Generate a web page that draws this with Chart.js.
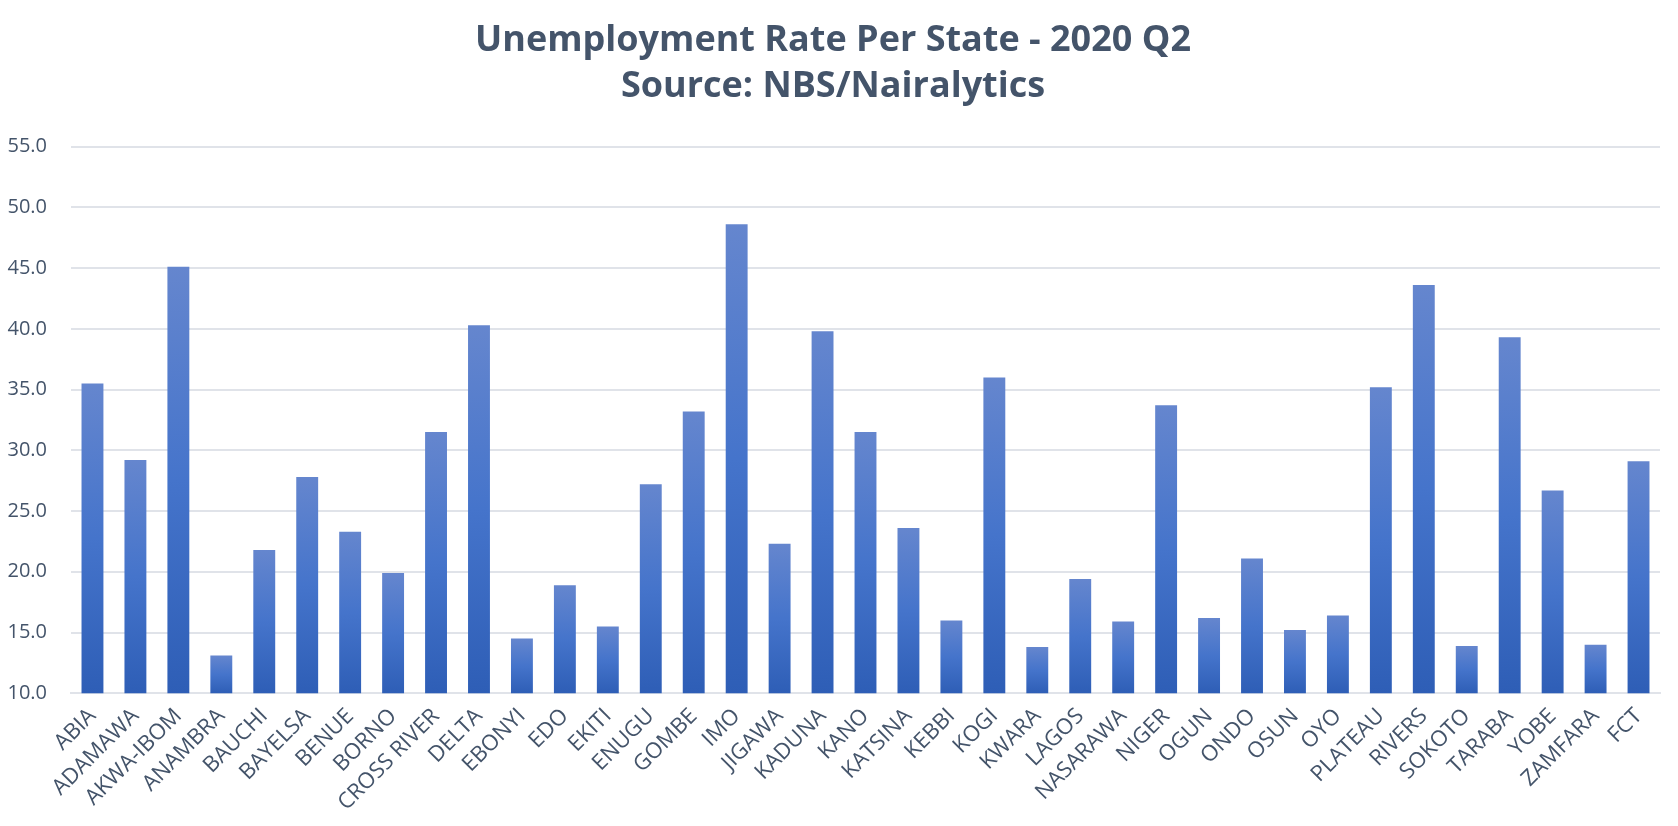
<!DOCTYPE html>
<html>
<head>
<meta charset="utf-8">
<script src="https://cdn.jsdelivr.net/npm/chart.js@4.4.0/dist/chart.umd.min.js"></script>
<style>
  html, body { margin: 0; padding: 0; background: #fff; }
  #wrap { width: 1678px; height: 826px; position: relative; }
</style>
</head>
<body>
<div id="wrap"><canvas id="chart"></canvas></div>
<script>
// Unemployment rate per state, 2020 Q2
const states = ['ABIA', 'ADAMAWA', 'AKWA-IBOM', 'ANAMBRA', 'BAUCHI', 'BAYELSA', 'BENUE', 'BORNO',
  'CROSS RIVER', 'DELTA', 'EBONYI', 'EDO', 'EKITI', 'ENUGU', 'GOMBE', 'IMO', 'JIGAWA', 'KADUNA',
  'KANO', 'KATSINA', 'KEBBI', 'KOGI', 'KWARA', 'LAGOS', 'NASARAWA', 'NIGER', 'OGUN', 'ONDO',
  'OSUN', 'OYO', 'PLATEAU', 'RIVERS', 'SOKOTO', 'TARABA', 'YOBE', 'ZAMFARA', 'FCT'];
const rates = [35.5, 29.2, 45.1, 13.1, 21.8, 27.8, 23.3, 19.9,
  31.5, 40.3, 14.5, 18.9, 15.5, 27.2, 33.2, 48.6, 22.3, 39.8,
  31.5, 23.6, 16.0, 36.0, 13.8, 19.4, 15.9, 33.7, 16.2, 21.1,
  15.2, 16.4, 35.2, 43.6, 13.9, 39.3, 26.7, 14.0, 29.1];
const yMin = 10;
const yMax = 55;
const yStep = 5;

const textColor = '#44546A';
const gridColor = '#E0E3E9';

// each bar gets its own light-to-dark gradient like the Excel original
function barGradient(ctx) {
  const chart = ctx.chart;
  if (!chart.chartArea) return '#4472C4';
  const y = chart.scales.y;
  const top = y.getPixelForValue(ctx.raw);
  const base = y.getPixelForValue(y.min);
  const g = chart.ctx.createLinearGradient(0, top, 0, base);
  g.addColorStop(0, '#6586CE');
  g.addColorStop(0.5, '#4574CB');
  g.addColorStop(1, '#2E5EB6');
  return g;
}

new Chart(document.getElementById('chart'), {
  type: 'bar',
  data: {
    labels: states,
    datasets: [{
      label: 'Unemployment Rate',
      data: rates,
      backgroundColor: barGradient,
      barPercentage: 0.51,
      categoryPercentage: 1
    }]
  },
  options: {
    responsive: true,
    maintainAspectRatio: false,
    animation: false,
    layout: { padding: { left: 6, right: 18, top: 17, bottom: 0 } },
    plugins: {
      legend: { display: false },
      tooltip: { enabled: false },
      title: {
        display: true,
        text: ['Unemployment Rate Per State - 2020 Q2', 'Source: NBS/Nairalytics'],
        color: textColor,
        font: { family: 'Open Sans', size: 36, weight: 'bold', lineHeight: 1.3 },
        padding: { top: 0, bottom: 36 }
      }
    },
    scales: {
      x: {
        grid: { display: false, drawTicks: false },
        border: { display: true, color: gridColor, width: 2 },
        ticks: {
          color: textColor,
          font: { family: 'Open Sans', size: 22 },
          minRotation: 45,
          maxRotation: 45,
          autoSkip: false,
          padding: 10
        },
        // the first rotated label fits under the y labels, as in the original
        afterFit: s => { s.paddingLeft = 0; }
      },
      y: {
        min: yMin,
        max: yMax,
        grid: { color: gridColor, lineWidth: 2, drawTicks: false },
        border: { display: false },
        afterFit: s => { s.width = 65; },
        ticks: {
          stepSize: yStep,
          color: textColor,
          font: { family: 'Open Sans', size: 20 },
          padding: 24,
          callback: v => v.toFixed(1)
        }
      }
    }
  }
});
</script>
</body>
</html>
